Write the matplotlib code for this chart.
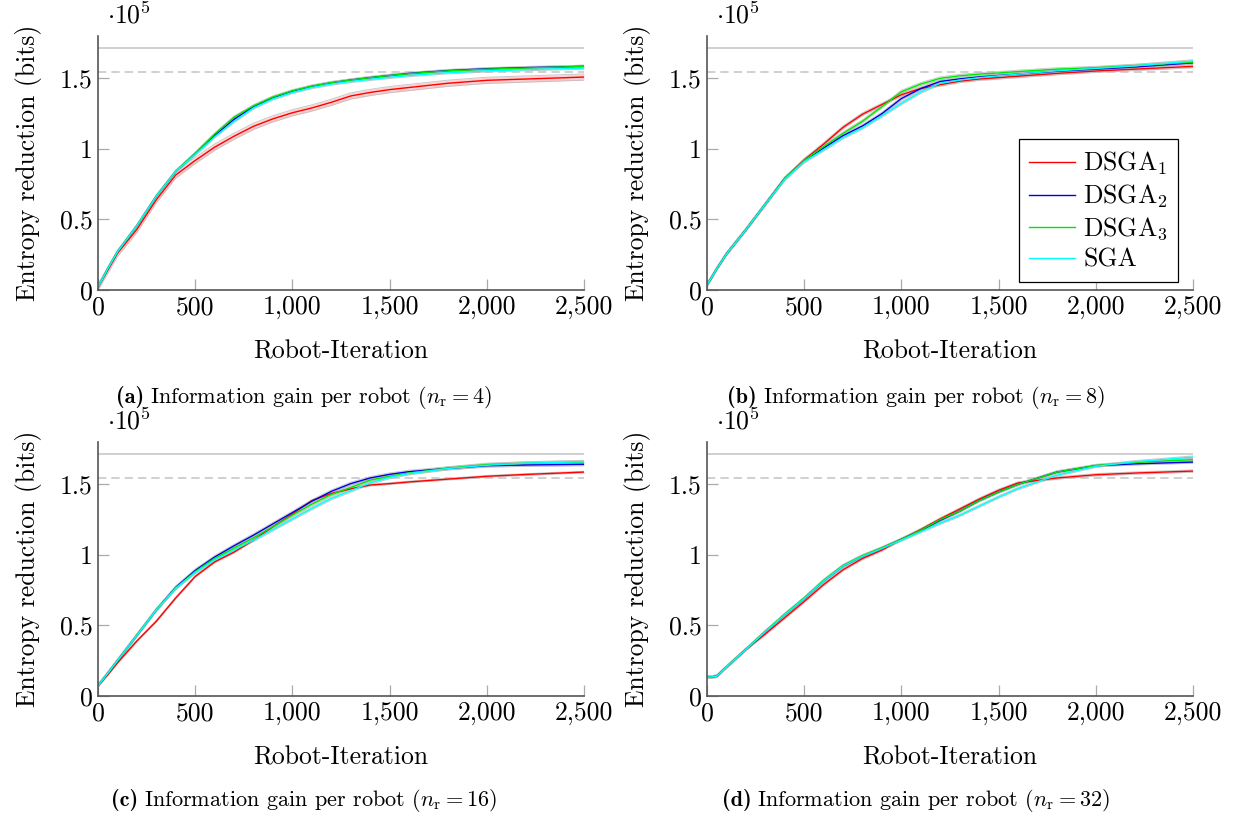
import numpy as np
import matplotlib
matplotlib.use("Agg")
import matplotlib.pyplot as plt
from matplotlib.ticker import FuncFormatter

plt.rcParams['font.family'] = ['cmr10', 'DejaVu Serif']
plt.rcParams['mathtext.fontset'] = 'cm'
plt.rcParams['axes.unicode_minus'] = False
plt.rcParams['axes.formatter.use_mathtext'] = True

# robot iterations (x) shared by all panels
iters = [0, 50, 100, 200, 300, 400, 500, 600, 700, 800, 900, 1000, 1100, 1200,
         1300, 1400, 1500, 1600, 1800, 2000, 2200, 2500]

# entropy reduction in units of 1e5 bits
# (a) n_r = 4
a_dsga1 = [0.02, 0.14, 0.26, 0.43, 0.64, 0.815, 0.918, 1.012, 1.09, 1.16, 1.213, 1.256,
           1.29, 1.33, 1.375, 1.40, 1.42, 1.435, 1.465, 1.486, 1.495, 1.509]
a_dsga2 = [0.02, 0.15, 0.27, 0.455, 0.665, 0.84, 0.965, 1.095, 1.21, 1.30, 1.362, 1.408,
           1.443, 1.468, 1.488, 1.505, 1.52, 1.535, 1.555, 1.568, 1.576, 1.585]
a_dsga3 = [0.02, 0.15, 0.27, 0.455, 0.665, 0.84, 0.97, 1.105, 1.225, 1.305, 1.368, 1.412,
           1.445, 1.47, 1.488, 1.505, 1.52, 1.533, 1.553, 1.565, 1.573, 1.585]
a_sga = [0.02, 0.15, 0.27, 0.455, 0.665, 0.84, 0.96, 1.085, 1.195, 1.29, 1.355, 1.40,
         1.435, 1.46, 1.478, 1.493, 1.507, 1.52, 1.54, 1.553, 1.562, 1.572]

# (b) n_r = 8
b_dsga1 = [0.035, 0.15, 0.255, 0.427, 0.608, 0.79, 0.922, 1.034, 1.153, 1.246, 1.315, 1.384,
           1.428, 1.455, 1.48, 1.495, 1.505, 1.515, 1.535, 1.552, 1.565, 1.585]
b_dsga2 = [0.035, 0.15, 0.255, 0.427, 0.608, 0.79, 0.915, 1.006, 1.094, 1.163, 1.25, 1.357,
           1.428, 1.478, 1.496, 1.51, 1.52, 1.53, 1.55, 1.565, 1.58, 1.61]
b_dsga3 = [0.035, 0.15, 0.255, 0.427, 0.608, 0.79, 0.918, 1.017, 1.11, 1.196, 1.30, 1.405,
           1.46, 1.50, 1.518, 1.53, 1.538, 1.548, 1.565, 1.575, 1.59, 1.615]
b_sga = [0.035, 0.15, 0.255, 0.427, 0.608, 0.785, 0.91, 0.994, 1.081, 1.15, 1.235, 1.323,
         1.404, 1.466, 1.488, 1.505, 1.518, 1.53, 1.553, 1.57, 1.588, 1.622]

# (c) n_r = 16
c_dsga1 = [0.073, 0.15, 0.235, 0.39, 0.53, 0.695, 0.847, 0.95, 1.02, 1.105, 1.20, 1.29,
           1.385, 1.435, 1.468, 1.495, 1.505, 1.517, 1.537, 1.557, 1.57, 1.587]
c_dsga2 = [0.073, 0.16, 0.25, 0.43, 0.61, 0.77, 0.89, 0.985, 1.065, 1.14, 1.22, 1.30,
           1.38, 1.45, 1.505, 1.545, 1.571, 1.59, 1.613, 1.632, 1.637, 1.642]
c_dsga3 = [0.073, 0.16, 0.25, 0.43, 0.61, 0.765, 0.882, 0.975, 1.048, 1.122, 1.20, 1.282,
           1.36, 1.428, 1.478, 1.53, 1.557, 1.58, 1.615, 1.64, 1.65, 1.658]
c_sga = [0.073, 0.16, 0.25, 0.43, 0.61, 0.765, 0.875, 0.965, 1.035, 1.105, 1.18, 1.255,
         1.33, 1.40, 1.455, 1.51, 1.55, 1.577, 1.612, 1.635, 1.65, 1.66]

# (d) n_r = 32
d_dsga1 = [0.132, 0.14, 0.205, 0.33, 0.44, 0.555, 0.67, 0.79, 0.895, 0.975, 1.035, 1.11,
           1.18, 1.255, 1.325, 1.395, 1.458, 1.51, 1.545, 1.568, 1.58, 1.594]
d_dsga2 = [0.132, 0.14, 0.205, 0.33, 0.455, 0.575, 0.69, 0.815, 0.92, 0.99, 1.048, 1.11,
           1.172, 1.245, 1.31, 1.385, 1.446, 1.50, 1.587, 1.632, 1.645, 1.658]
d_dsga3 = [0.132, 0.14, 0.205, 0.33, 0.458, 0.58, 0.695, 0.82, 0.925, 0.995, 1.05, 1.11,
           1.175, 1.25, 1.31, 1.385, 1.446, 1.50, 1.587, 1.634, 1.655, 1.675]
d_sga = [0.132, 0.14, 0.205, 0.33, 0.455, 0.575, 0.69, 0.815, 0.92, 0.99, 1.045, 1.105,
         1.165, 1.225, 1.28, 1.345, 1.41, 1.47, 1.565, 1.628, 1.66, 1.693]

# half width of the shaded band around each curve (DSGA1, DSGA2, DSGA3, SGA)
a_spread = [0.022, 0.008, 0.008, 0.008]
b_spread = [0.010, 0.010, 0.010, 0.010]
c_spread = [0.006, 0.010, 0.010, 0.010]
d_spread = [0.008, 0.008, 0.008, 0.008]

upper_bound = 1.716
ref_level = 1.545

labels = [r'DSGA$_1$', r'DSGA$_2$', r'DSGA$_3$', 'SGA']
colors = ['#ff0000', '#0000e6', '#00e600', '#00ffff']
band_colors = ['#ffb0b0', '#b0b0ff', '#b0ffb0', '#b0ffff']

panels = [
    ([a_dsga1, a_dsga2, a_dsga3, a_sga], a_spread, 4, 'a'),
    ([b_dsga1, b_dsga2, b_dsga3, b_sga], b_spread, 8, 'b'),
    ([c_dsga1, c_dsga2, c_dsga3, c_sga], c_spread, 16, 'c'),
    ([d_dsga1, d_dsga2, d_dsga3, d_sga], d_spread, 32, 'd'),
]

W, H = 1236, 816
fig = plt.figure(figsize=(W / 100, H / 100), dpi=100)
renderer = fig.canvas.get_renderer()
positions = [
    (98, 290), (707, 290),
    (98, 696), (707, 696),
]
ax_w, ax_h = 486, 254
fs = 18.5
cap_fs = 16

def thousands(v, pos):
    return '{:,}'.format(int(round(v)))

def yfmt(v, pos):
    if abs(v - round(v)) < 1e-9:
        return str(int(round(v)))
    return '{:g}'.format(v)

x = np.array(iters)
for i, (series, spread, nr, tag) in enumerate(panels):
    left, bottom = positions[i]
    ax = fig.add_axes([left / W, 1 - bottom / H, ax_w / W, ax_h / H])

    ax.plot([0, 2500], [upper_bound, upper_bound], color='#c8c8c8', lw=1.2)
    ax.plot([0, 2500], [ref_level, ref_level], color='#c8c8c8', lw=1.2,
            dashes=(5, 3))

    for s, sp, bc in zip(series, spread, band_colors):
        y = np.array(s)
        ax.fill_between(x, y - sp, y + sp, color=bc, alpha=0.6, lw=0)
        ax.plot(x, y - sp, color='#bbbbbb', lw=0.7, alpha=0.8)
        ax.plot(x, y + sp, color='#bbbbbb', lw=0.7, alpha=0.8)
    for s, c, lab in zip(series, colors, labels):
        ax.plot(x, s, color=c, lw=1.0, label=lab)

    ax.set_xlim(0, 2500)
    ax.set_ylim(0, 1.8)
    ax.set_xticks([0, 500, 1000, 1500, 2000, 2500])
    ax.set_yticks([0, 0.5, 1, 1.5])
    ax.xaxis.set_major_formatter(FuncFormatter(thousands))
    ax.yaxis.set_major_formatter(FuncFormatter(yfmt))
    for side in ['top', 'right']:
        ax.spines[side].set_visible(False)
    for side in ['left', 'bottom']:
        ax.spines[side].set_color('#555555')
        ax.spines[side].set_linewidth(1.2)
    ax.tick_params(direction='in', length=8, width=0.9, color='#aaaaaa',
                   labelsize=fs, pad=4)
    ax.set_xlabel('Robot-Iteration', fontsize=fs, labelpad=15)
    ax.set_ylabel('Entropy reduction (bits)', fontsize=fs, labelpad=13)
    ax.text(0.018, 1.03, r'$\cdot 10^5$', transform=ax.transAxes,
            fontsize=fs, ha='left', va='bottom')

    if tag == 'b':
        leg = ax.legend(loc='lower right', bbox_to_anchor=(0.969, 0.031),
                        fontsize=fs, frameon=True, fancybox=False,
                        edgecolor='black', framealpha=1, handlelength=1.8,
                        handletextpad=0.3, labelspacing=0.22, borderpad=0.4,
                        borderaxespad=0)
        leg.get_frame().set_linewidth(0.9)

    # caption: bold "(x)" followed by regular text, centred as a whole
    cx = 304 if i % 2 == 0 else 916
    cy = 397 if i < 2 else 800
    head = fig.text(0, 1 - cy / H, '(%s)' % tag, family='cmb10',
                    fontsize=cap_fs, ha='left', va='baseline')
    rest = fig.text(0, 1 - cy / H,
                    r'Information gain per robot ($n_\mathrm{r} = %d$)' % nr,
                    fontsize=cap_fs, ha='left', va='baseline')
    wh = head.get_window_extent(renderer).width
    wr = rest.get_window_extent(renderer).width
    gap = 6
    x0 = cx - (wh + gap + wr) / 2
    head.set_x(x0 / W)
    rest.set_x((x0 + wh + gap) / W)
    head.set_y(1 - (cy + 6) / H)
    rest.set_y(1 - (cy + 6) / H)

fig.savefig('out.png', dpi=100)
